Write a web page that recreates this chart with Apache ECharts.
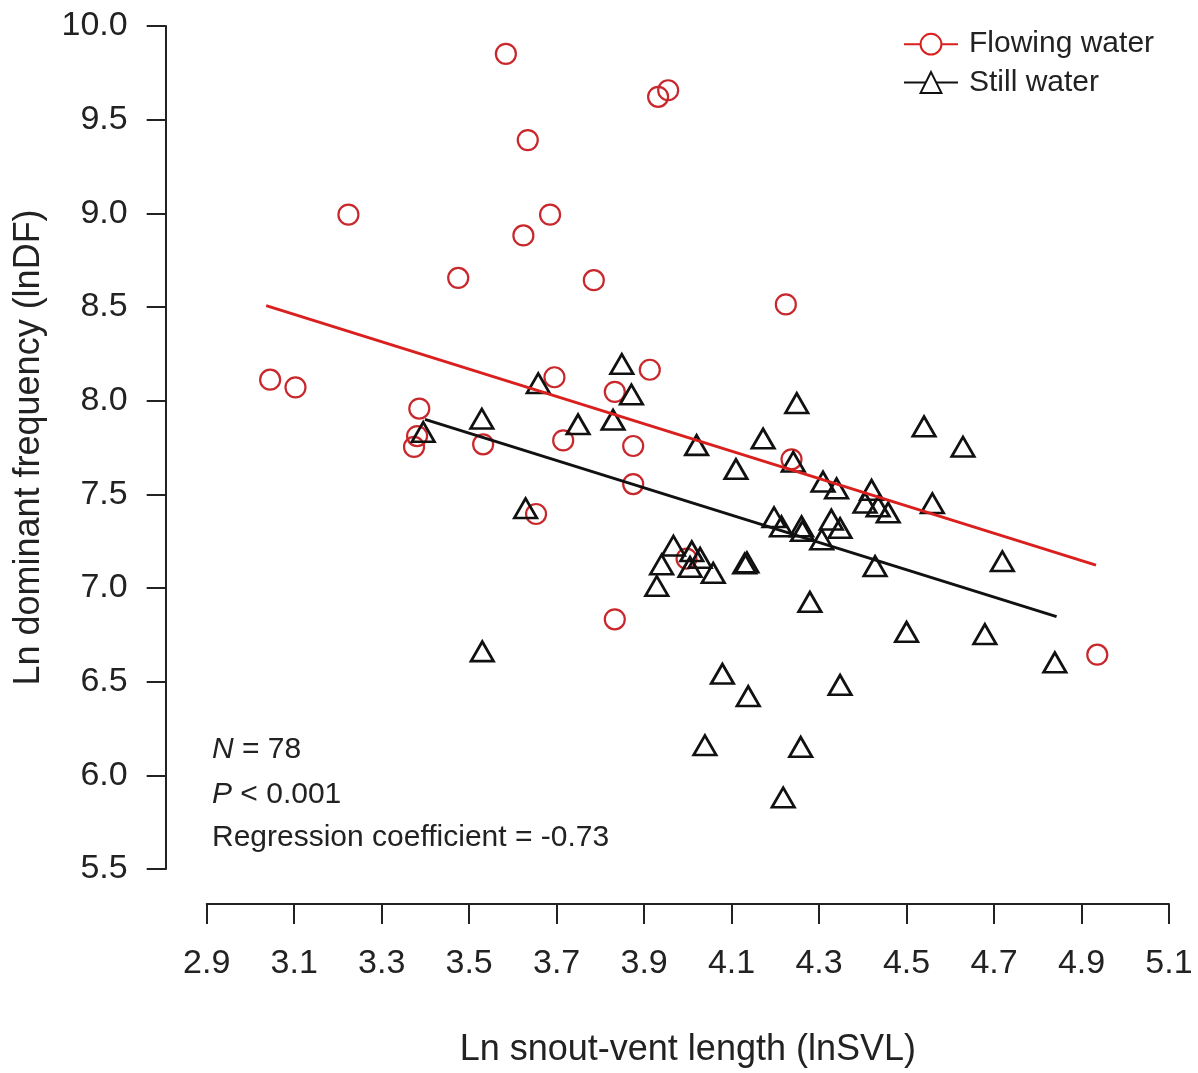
<!DOCTYPE html>
<html>
<head>
<meta charset="utf-8">
<script src="https://cdn.jsdelivr.net/npm/echarts@6/dist/echarts.min.js"></script>
<style>
html,body{margin:0;padding:0;background:#fff;}
#chart{width:1198px;height:1073px;}
</style>
</head>
<body>
<div id="chart"></div>
<script>
// ---- data ----
const seriesNames = ['Flowing water', 'Still water'];

const flowingX = [3.584, 3.634, 3.224, 3.624, 3.475, 3.932, 3.955, 3.685, 3.785, 4.224,
                  3.045, 3.103, 3.386, 3.381, 3.374, 3.532, 3.653, 3.695, 3.913, 3.833,
                  3.715, 3.875, 3.875, 3.997, 4.237, 3.833, 4.936];
const flowingY = [9.851, 9.391, 8.993, 8.882, 8.655, 9.622, 9.657, 8.993, 8.643, 8.514,
                  8.112, 8.071, 7.958, 7.811, 7.753, 7.767, 7.395, 8.125, 8.165, 8.047,
                  7.788, 7.758, 7.555, 7.157, 7.687, 6.833, 6.644];

const stillX = [3.529, 3.395, 3.629, 3.530, 3.658, 3.849, 3.871, 3.749, 3.829, 4.020,
                4.172, 4.249, 4.110, 4.241, 4.309, 4.340, 4.420, 4.405, 4.435, 4.458,
                4.197, 4.214, 4.260, 4.306, 4.328, 4.348, 4.428, 4.130, 3.967, 3.940,
                4.009, 4.028, 4.005, 4.058, 3.929, 4.279, 4.540, 4.629, 4.559, 4.719,
                4.500, 4.679, 4.839, 4.079, 4.138, 4.348, 4.039, 4.258, 4.218, 4.135,
                4.262];
const stillY = [7.885, 7.814, 7.407, 6.643, 8.074, 8.177, 8.014, 7.855, 7.879, 7.744,
                7.779, 7.968, 7.616, 7.655, 7.549, 7.513, 7.505, 7.437, 7.416, 7.384,
                7.359, 7.310, 7.310, 7.240, 7.346, 7.301, 7.098, 7.112, 7.207, 7.107,
                7.177, 7.142, 7.094, 7.062, 6.992, 6.907, 7.844, 7.735, 7.434, 7.124,
                6.747, 6.735, 6.584, 6.523, 6.404, 6.464, 6.142, 6.133, 5.863, 7.118,
                7.285];

// fitted regression lines (end points)
const flowingFit = [[3.036, 8.507], [4.933, 7.122]];
const stillFit = [[3.399, 7.900], [4.843, 6.847]];

// axes
const xTickRange = [2.9, 5.1, 0.2];   // min, max, step
const yTickRange = [5.5, 10.0, 0.5];
const xTitle = 'Ln snout-vent length (lnSVL)';
const yTitle = 'Ln dominant frequency (lnDF)';
const statLines = ['{i|N} = 78', '{i|P} < 0.001', 'Regression coefficient = -0.73'];

// ---- chart ----
const FONT = 'Liberation Sans';
const INK = '#222';
const RED_LINE = '#d9201f';
const RED_PT = '#c8282c';
const BLACK = '#111';

const chart = echarts.init(document.getElementById('chart'), null, {renderer: 'canvas'});

const richI = {i: {fontSize: 30, fontFamily: FONT, fontStyle: 'italic', fill: INK}};

const option = {
  backgroundColor: '#fff',
  animation: false,
  grid: {left: 206.7, right: 29, top: 26, bottom: 199, containLabel: false},
  xAxis: {
    type: 'value', min: xTickRange[0], max: xTickRange[1], interval: xTickRange[2],
    offset: 35,
    name: xTitle, nameLocation: 'middle', nameGap: 128,
    nameTextStyle: {fontSize: 36, fontFamily: FONT, color: INK},
    axisLine: {show: true, onZero: false, lineStyle: {color: INK, width: 2}},
    axisTick: {show: true, inside: false, length: 20, lineStyle: {color: INK, width: 2}},
    axisLabel: {margin: 43, fontSize: 34, fontFamily: FONT, color: INK,
      showMinLabel: true, showMaxLabel: true, formatter: v => v.toFixed(1)},
    splitLine: {show: false}
  },
  yAxis: {
    type: 'value', min: yTickRange[0], max: yTickRange[1], interval: yTickRange[2],
    offset: 41,
    name: yTitle, nameLocation: 'middle', nameGap: 119,
    nameTextStyle: {fontSize: 36, fontFamily: FONT, color: INK},
    axisLine: {show: true, onZero: false, lineStyle: {color: INK, width: 2}},
    axisTick: {show: true, inside: false, length: 19, lineStyle: {color: INK, width: 2}},
    axisLabel: {margin: 38, fontSize: 34, fontFamily: FONT, color: INK,
      showMinLabel: true, showMaxLabel: true, formatter: v => v.toFixed(1)},
    splitLine: {show: false}
  },
  legend: {
    orient: 'vertical', left: 903, top: 29.2, padding: 0,
    itemWidth: 54, itemHeight: 26, itemGap: 8.3,
    selectedMode: false,
    data: seriesNames,
    textStyle: {fontSize: 30, fontFamily: FONT, color: INK, padding: [0, 0, 0, 6]}
  },
  graphic: [
    {type: 'text', left: 212, top: 735, silent: true,
     style: {text: statLines[0], fontSize: 30, fontFamily: FONT, fill: INK, rich: richI}},
    {type: 'text', left: 212, top: 780, silent: true,
     style: {text: statLines[1], fontSize: 30, fontFamily: FONT, fill: INK, rich: richI}},
    {type: 'text', left: 212, top: 823, silent: true,
     style: {text: statLines[2], fontSize: 30, fontFamily: FONT, fill: INK}}
  ],
  series: [
    {
      name: seriesNames[0], type: 'line', data: flowingFit,
      symbol: 'emptyCircle', showSymbol: false, color: RED_LINE,
      lineStyle: {width: 3, color: RED_LINE}, z: 5, silent: true
    },
    {
      name: seriesNames[1], type: 'line', data: stillFit,
      symbol: 'emptyTriangle', showSymbol: false, color: BLACK,
      lineStyle: {width: 3, color: BLACK}, z: 5, silent: true
    },
    {
      name: seriesNames[0], type: 'scatter',
      data: flowingX.map((x, i) => [x, flowingY[i]]),
      symbol: 'circle', symbolSize: 20,
      itemStyle: {color: 'rgba(0,0,0,0)', borderColor: RED_PT, borderWidth: 2.2, opacity: 1},
      z: 3
    },
    {
      name: seriesNames[1], type: 'scatter',
      data: stillX.map((x, i) => [x, stillY[i]]),
      symbol: 'triangle', symbolSize: [22.5, 19.5], symbolOffset: [0, -3.5],
      itemStyle: {color: 'rgba(0,0,0,0)', borderColor: BLACK, borderWidth: 2.7, opacity: 1},
      z: 3
    }
  ]
};

chart.setOption(option);
</script>
</body>
</html>
